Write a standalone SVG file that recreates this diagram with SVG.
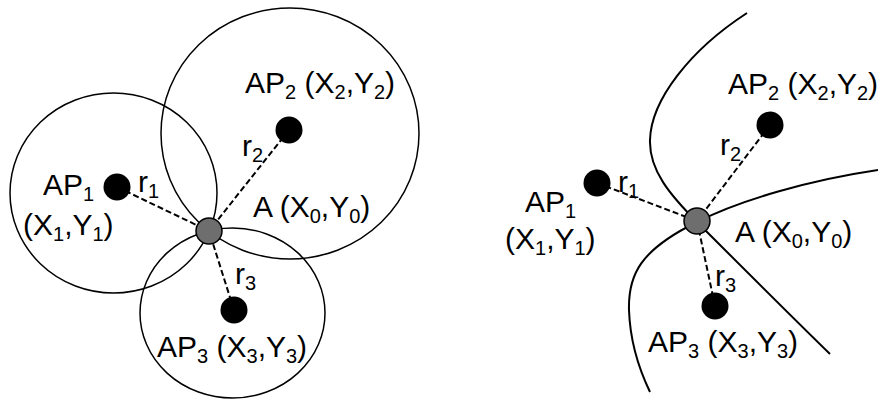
<svg xmlns="http://www.w3.org/2000/svg" width="878" height="401" viewBox="0 0 878 401">
<style>
text{font-family:"Liberation Sans",Arial,sans-serif;font-size:30px;fill:#000}
.s{font-size:20px}
.ring{fill:none;stroke:#000;stroke-width:1.5}
.curve{fill:none;stroke:#000;stroke-width:2}
.dash{stroke:#000;stroke-width:2;stroke-dasharray:6 3;fill:none}
.ap{fill:#000}
.a{fill:#6e6e6e;stroke:#000;stroke-width:1.5}
</style>
<rect width="878" height="401" fill="#fff"/>
<g id="connectors">
<ellipse class="ring" cx="113.5" cy="193" rx="103.5" ry="100"/>
<ellipse class="ring" cx="290" cy="133.5" rx="129" ry="125.5"/>
<ellipse class="ring" cx="232.5" cy="313" rx="92.5" ry="85"/>
<line class="dash" x1="117" y1="187" x2="209" y2="231"/>
<line class="dash" x1="289" y1="130" x2="209" y2="231"/>
<line class="dash" x1="234" y1="310" x2="209" y2="231"/>
<path class="curve" d="M747,13 C690,50 651,100 650,140 C649,170 670,195 697,222 C740,265 790,315 830,354"/>
<path class="curve" d="M878,170 C810,180 740,200 697,222 C640,250 628,275 629,310 C630,340 637,365 650,392"/>
<line class="dash" x1="597" y1="183" x2="697" y2="221"/>
<line class="dash" x1="770" y1="125" x2="697" y2="221"/>
<line class="dash" x1="715" y1="306" x2="697" y2="221"/>
</g>
<g id="left-ap1"><circle class="ap" cx="117" cy="187" r="13.5"/>
<text x="43" y="195">AP<tspan class="s" dy="6">1</tspan></text>
<text x="23" y="235">(X<tspan class="s" dy="6">1</tspan><tspan dy="-6">,Y</tspan><tspan class="s" dy="6">1</tspan><tspan dy="-6">)</tspan></text>
<text x="138" y="192">r<tspan class="s" dy="6">1</tspan></text></g>
<g id="left-ap2"><circle class="ap" cx="289" cy="130" r="13.5"/>
<text x="245" y="93">AP<tspan class="s" dy="6">2</tspan><tspan dy="-6"> (X</tspan><tspan class="s" dy="6">2</tspan><tspan dy="-6">,Y</tspan><tspan class="s" dy="6">2</tspan><tspan dy="-6">)</tspan></text>
<text x="242" y="156">r<tspan class="s" dy="6">2</tspan></text></g>
<g id="left-ap3"><circle class="ap" cx="234" cy="310" r="13.5"/>
<text x="157" y="357">AP<tspan class="s" dy="6">3</tspan><tspan dy="-6"> (X</tspan><tspan class="s" dy="6">3</tspan><tspan dy="-6">,Y</tspan><tspan class="s" dy="6">3</tspan><tspan dy="-6">)</tspan></text>
<text x="235" y="284">r<tspan class="s" dy="6">3</tspan></text></g>
<g id="left-a"><circle class="a" cx="209" cy="231" r="13"/>
<text x="253" y="217">A (X<tspan class="s" dy="6">0</tspan><tspan dy="-6">,Y</tspan><tspan class="s" dy="6">0</tspan><tspan dy="-6">)</tspan></text></g>
<g id="right-ap1"><circle class="ap" cx="597" cy="183" r="13.5"/>
<text x="525" y="212">AP<tspan class="s" dy="6">1</tspan></text>
<text x="505" y="249">(X<tspan class="s" dy="6">1</tspan><tspan dy="-6">,Y</tspan><tspan class="s" dy="6">1</tspan><tspan dy="-6">)</tspan></text>
<text x="618" y="192">r<tspan class="s" dy="6">1</tspan></text></g>
<g id="right-ap2"><circle class="ap" cx="770" cy="125" r="13.5"/>
<text x="728" y="94">AP<tspan class="s" dy="6">2</tspan><tspan dy="-6"> (X</tspan><tspan class="s" dy="6">2</tspan><tspan dy="-6">,Y</tspan><tspan class="s" dy="6">2</tspan><tspan dy="-6">)</tspan></text>
<text x="720" y="155">r<tspan class="s" dy="6">2</tspan></text></g>
<g id="right-ap3"><circle class="ap" cx="715" cy="306" r="13.5"/>
<text x="648" y="352">AP<tspan class="s" dy="6">3</tspan><tspan dy="-6"> (X</tspan><tspan class="s" dy="6">3</tspan><tspan dy="-6">,Y</tspan><tspan class="s" dy="6">3</tspan><tspan dy="-6">)</tspan></text>
<text x="715" y="286">r<tspan class="s" dy="6">3</tspan></text></g>
<g id="right-a"><circle class="a" cx="697" cy="221" r="13"/>
<text x="735" y="242">A (X<tspan class="s" dy="6">0</tspan><tspan dy="-6">,Y</tspan><tspan class="s" dy="6">0</tspan><tspan dy="-6">)</tspan></text></g>
</svg>
